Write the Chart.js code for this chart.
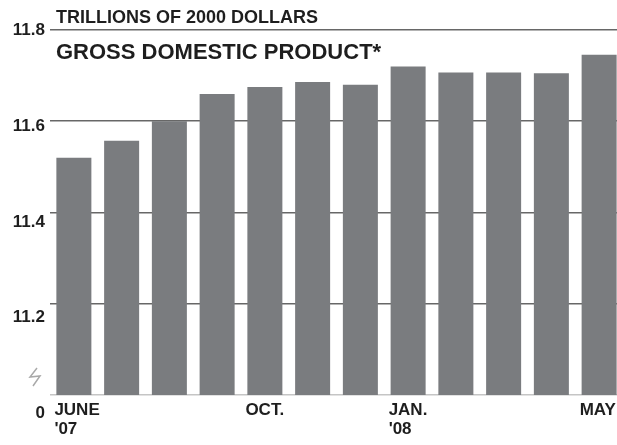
<!DOCTYPE html>
<html>
<head>
<meta charset="utf-8">
<script src="https://cdn.jsdelivr.net/npm/chart.js@4.4.1/dist/chart.umd.min.js"></script>
<style>
  html, body { margin: 0; padding: 0; background: #fff; overflow: hidden; }
  #wrap { width: 623px; height: 445px; }
</style>
</head>
<body>
<div id="wrap"><canvas id="gdp-chart" width="623" height="445"></canvas></div>
<script>
// Data (trillions of 2000 dollars)
const months = ["June 07", "July", "Aug", "Sept", "Oct", "Nov", "Dec", "Jan 08", "Feb", "Mar", "Apr", "May"];
const monthLabels = [["JUNE", "'07"], "", "", "", "OCT.", "", "", ["JAN.", "'08"], "", "", "", "MAY"];
const gdpValues = [11.52, 11.557, 11.6, 11.66, 11.675, 11.686, 11.68, 11.72, 11.707, 11.707, 11.705, 11.746];
const yTicks = [11.0, 11.2, 11.4, 11.6, 11.8];

const unitLabel = "TRILLIONS OF 2000 DOLLARS";
const chartTitle = "GROSS DOMESTIC PRODUCT*";

const textColor = "#1e1e1e";
const barColor = "#7a7c7f";
const fontFamily = "'Liberation Sans', Arial, sans-serif";

// how far each y label sits below its gridline (via line height of a blank first line)
const labelDrop = { "11.0": 36, "11.2": 28, "11.4": 19, "11.6": 10 };

// Titles and the axis break mark
const annotations = {
  id: "annotations",
  afterDraw(chart) {
    const ctx = chart.ctx;
    const left = chart.chartArea.left + 6;
    ctx.save();
    ctx.fillStyle = textColor;
    ctx.textBaseline = "alphabetic";
    ctx.font = "bold 18px " + fontFamily;
    ctx.fillText(unitLabel, left, 23);
    ctx.font = "bold 22px " + fontFamily;
    ctx.fillText(chartTitle, left, 59);

    // break symbol on the value axis
    ctx.strokeStyle = "#a9a9a9";
    ctx.lineWidth = 1.5;
    ctx.beginPath();
    ctx.moveTo(37, 368);
    ctx.lineTo(30, 377);
    ctx.lineTo(40, 376);
    ctx.lineTo(33, 386);
    ctx.stroke();
    ctx.restore();
  },
};

const ctx = document.getElementById("gdp-chart").getContext("2d");

new Chart(ctx, {
  type: "bar",
  data: {
    labels: months,
    datasets: [
      {
        label: "GDP",
        data: gdpValues,
        backgroundColor: barColor,
        borderWidth: 0,
        barPercentage: 0.733,
        categoryPercentage: 1,
      },
    ],
  },
  options: {
    responsive: false,
    animation: false,
    layout: {
      padding: { top: 30, left: 0, right: 0, bottom: 0 },
    },
    plugins: {
      legend: { display: false },
      tooltip: { enabled: false },
    },
    scales: {
      x: {
        afterFit: function (scale) {
          // labels may run past the edge, like in the print version
          scale.paddingLeft = 0;
          scale.paddingRight = 0;
        },
        grid: { display: false, drawTicks: false },
        border: { display: false },
        ticks: {
          autoSkip: false,
          maxRotation: 0,
          align: "start",
          labelOffset: -19.5,
          padding: 6,
          color: textColor,
          font: { family: fontFamily, size: 17, weight: "bold", lineHeight: "19px" },
          callback: function (value, index) {
            return monthLabels[index];
          },
        },
      },
      y: {
        z: 1,
        min: 11.0,
        max: 11.8,
        afterFit: function (scale) {
          scale.width = 50;
        },
        afterBuildTicks: function (scale) {
          scale.ticks = yTicks.map((v) => ({ value: v }));
        },
        grid: {
          drawTicks: false,
          lineWidth: 1.6,
          color: function (context) {
            return context.tick && context.tick.value === 11.0
              ? "rgba(90, 90, 90, 0.35)"
              : "rgba(45, 45, 45, 0.72)";
          },
        },
        border: { display: false },
        ticks: {
          padding: 5,
          color: textColor,
          font: function (context) {
            const key = context.tick ? context.tick.value.toFixed(1) : "";
            const drop = labelDrop[key];
            return {
              family: fontFamily,
              size: 17,
              weight: "bold",
              lineHeight: drop ? drop + "px" : 1.2,
            };
          },
          callback: function (value) {
            const key = Number(value).toFixed(1);
            const text = key === "11.0" ? "0" : key;
            return labelDrop[key] ? ["", text] : text;
          },
        },
      },
    },
  },
  plugins: [annotations],
});
</script>
</body>
</html>
